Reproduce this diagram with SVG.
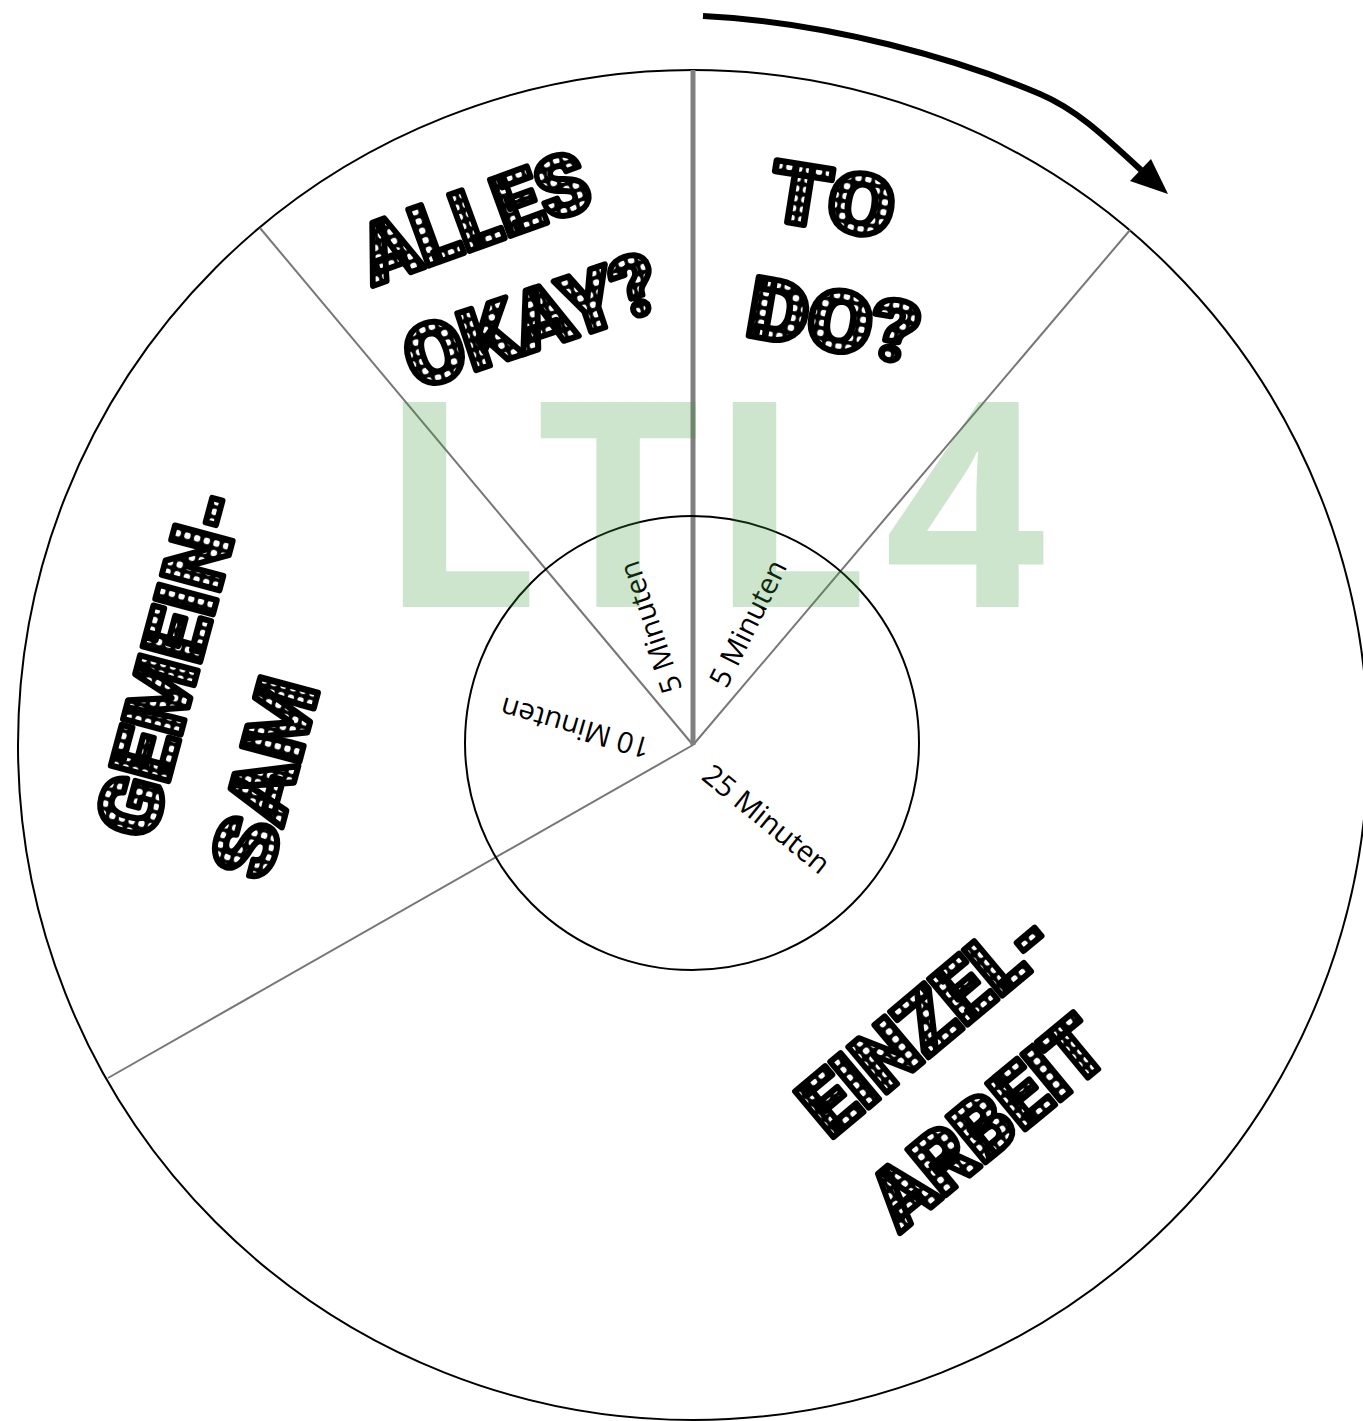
<svg xmlns="http://www.w3.org/2000/svg" width="1363" height="1421" viewBox="0 0 1363 1421">
<style>
.ring{fill:none;stroke:#000;stroke-width:2}
.ray{stroke:#777;stroke-width:2;fill:none}
.mq{font-family:Roboto,'DejaVu Sans',sans-serif;font-weight:900;font-size:84px;fill:url(#dots);stroke:#000;stroke-width:6;stroke-linejoin:round}
.min{font-family:'Open Sans','Noto Sans',sans-serif;font-size:29px;fill:#000;text-anchor:middle}
.wm{font-family:'Open Sans','DejaVu Sans',sans-serif;font-weight:700;font-size:287px;fill:#3a9a3a;fill-opacity:0.26}
</style>
<defs>
<pattern id="dots" width="10" height="10" patternUnits="userSpaceOnUse">
<rect width="10" height="10" fill="#000"/>
<circle cx="5" cy="5" r="3.3" fill="#fff"/>
</pattern>
</defs>
<rect width="1363" height="1421" fill="#fff"/>
<g id="outer-circle"><circle class="ring" cx="693" cy="745" r="675"/></g>
<g id="connectors">
<line class="ray" x1="693" y1="745" x2="1130" y2="230"/>
<line class="ray" x1="693" y1="745" x2="260" y2="228"/>
<line class="ray" x1="693" y1="745" x2="108" y2="1078"/>
<line x1="693" y1="70" x2="693" y2="745" stroke="#808080" stroke-width="5"/>
<path d="M703,16 C830,22 960,60 1040,94 C1075,109 1100,132 1141,170" fill="none" stroke="#000" stroke-width="6"/>
<polygon points="1168,194 1130,181 1151,159" fill="#000"/>
</g>
<g id="inner-circle"><circle class="ring" cx="692" cy="743" r="227"/></g>
<g id="label-25"><text class="min" transform="translate(760,827) rotate(39)">25 Minuten</text></g>
<g id="label-10"><text class="min" transform="translate(578,718) rotate(196)">10 Minuten</text></g>
<g id="label-5-right"><text class="min" transform="translate(757,628) rotate(-63.6)">5 Minuten</text></g>
<g id="label-5-left"><text class="min" transform="translate(660,624) rotate(-109)">5 Minuten</text></g>
<g id="watermark"><text class="wm" x="377 535 707 884" y="607">LTL4</text></g>
<g id="node-alles-okay">
<text class="mq" transform="translate(373,286) rotate(-20)" textLength="237" lengthAdjust="spacingAndGlyphs">ALLES</text>
<text class="mq" transform="translate(416,390) rotate(-18.4)" textLength="262" lengthAdjust="spacingAndGlyphs">OKAY?</text>
</g>
<g id="node-todo">
<text class="mq" transform="translate(766,219) rotate(9)" textLength="125" lengthAdjust="spacingAndGlyphs">TO</text>
<text class="mq" transform="translate(744,335) rotate(9.7)" textLength="172" lengthAdjust="spacingAndGlyphs">DO?</text>
</g>
<g id="node-gemeinsam">
<text class="mq" transform="translate(152,842) rotate(-75)" textLength="355" lengthAdjust="spacingAndGlyphs">GEMEIN-</text>
<text class="mq" transform="translate(267,883) rotate(-75)" textLength="202" lengthAdjust="spacingAndGlyphs">SAM</text>
</g>
<g id="node-einzelarbeit">
<text class="mq" transform="translate(830,1140) rotate(-40)" textLength="300" lengthAdjust="spacingAndGlyphs">EINZEL-</text>
<text class="mq" transform="translate(900,1233) rotate(-39.6)" textLength="276" lengthAdjust="spacingAndGlyphs">ARBEIT</text>
</g>
</svg>
